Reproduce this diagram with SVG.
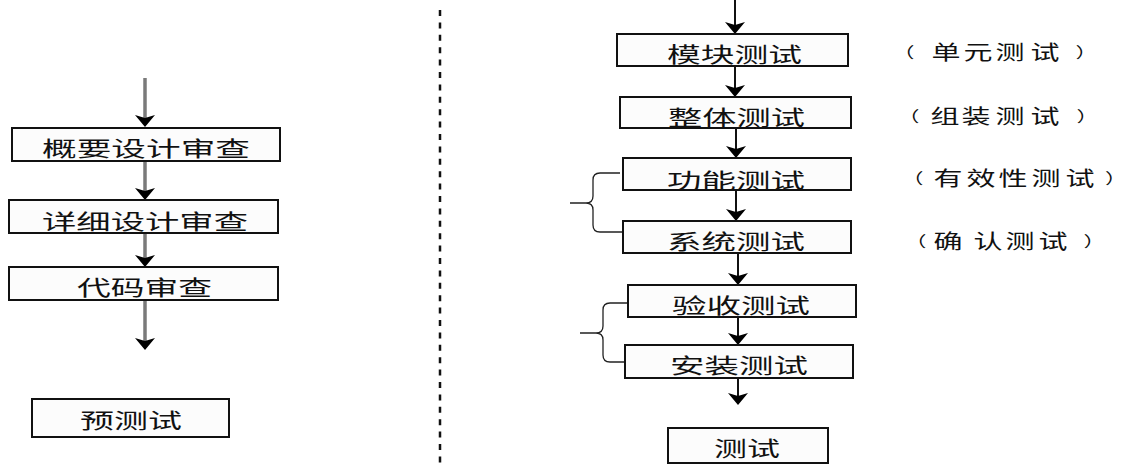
<svg xmlns="http://www.w3.org/2000/svg" width="1127" height="466" viewBox="0 0 1127 466">
<defs>
<style>
.box{fill:#fcfcfc;stroke:#111;stroke-width:2}
.t{font-family:"Noto Sans CJK SC","Noto Sans",sans-serif;font-size:21px;fill:#111;dominant-baseline:central}
.n{font-family:"Noto Sans CJK SC","Noto Sans",sans-serif;font-size:20px;fill:#111;dominant-baseline:central}
.p{font-size:15px}
.ga{stroke:#7a7a7a;stroke-width:3.5;fill:none;marker-end:url(#ah)}
.ba{stroke:#111;stroke-width:2;fill:none;marker-end:url(#ah)}
.br{stroke:#222;stroke-width:1.3;fill:none}
</style>
<marker id="ah" markerUnits="userSpaceOnUse" viewBox="0 0 12 20" refX="6" refY="10" markerWidth="12" markerHeight="20" orient="auto">
<path d="M0,0 L12,10 L0,20 L3,10 Z" fill="#000"/>
</marker>
</defs>
<rect width="1127" height="466" fill="#fff"/>
<line x1="440" y1="10" x2="440" y2="466" stroke="#111" stroke-width="2.5" stroke-dasharray="6,6.4"/>
<g id="connectors">
<line class="ga" x1="145" y1="78" x2="145" y2="121"/>
<line class="ga" x1="145" y1="161" x2="145" y2="194"/>
<line class="ga" x1="145" y1="233" x2="145" y2="261"/>
<line class="ga" x1="145" y1="300" x2="145" y2="344"/>
<line class="ba" x1="735" y1="0" x2="735" y2="28"/>
<line class="ba" x1="735" y1="66" x2="735" y2="91"/>
<line class="ba" x1="736" y1="128" x2="736" y2="152"/>
<line class="ba" x1="736" y1="190" x2="736" y2="215"/>
<line class="ba" x1="738" y1="253" x2="738" y2="279"/>
<line class="ba" x1="738" y1="317" x2="738" y2="339"/>
<line class="ba" x1="738" y1="378" x2="738" y2="399"/>
<path class="br" d="M620,173 L600,173 Q593,173 593,180 L593,196 Q593,203 586,203 L570,203 M586,203 Q593,203 593,210 L593,225 Q593,232 600,232 L623,232"/>
<path class="br" d="M628,303 L610,303 Q603,303 603,310 L603,326 Q603,333 596,333 L580,333 M596,333 Q603,333 603,340 L603,355 Q603,362 610,362 L626,362"/>
</g>
<g id="n1"><rect class="box" x="12" y="128" width="268" height="33"/><text class="t" x="42" y="147" textLength="208" lengthAdjust="spacingAndGlyphs">概要设计审查</text></g>
<g id="n2"><rect class="box" x="9" y="200" width="269" height="33"/><text class="t" x="42" y="220" textLength="206" lengthAdjust="spacingAndGlyphs">详细设计审查</text></g>
<g id="n3"><rect class="box" x="9" y="267" width="269" height="33"/><text class="t" x="77" y="286" textLength="135" lengthAdjust="spacingAndGlyphs">代码审查</text></g>
<g id="n4"><rect class="box" x="32" y="399" width="197" height="38"/><text class="t" x="80" y="419" textLength="102" lengthAdjust="spacingAndGlyphs">预测试</text></g>
<g id="r1"><rect class="box" x="617" y="34" width="231" height="32"/><text class="t" x="667" y="53" textLength="135" lengthAdjust="spacingAndGlyphs">模块测试</text></g>
<g id="r2"><rect class="box" x="620" y="97" width="231" height="31"/><text class="t" x="668" y="116" textLength="137" lengthAdjust="spacingAndGlyphs">整体测试</text></g>
<g id="r3"><rect class="box" x="623" y="158" width="228" height="32"/><text class="t" x="667" y="179" textLength="138" lengthAdjust="spacingAndGlyphs">功能测试</text></g>
<g id="r4"><rect class="box" x="623" y="221" width="228" height="32"/><text class="t" x="667" y="240" textLength="138" lengthAdjust="spacingAndGlyphs">系统测试</text></g>
<g id="r5"><rect class="box" x="628" y="285" width="228" height="32"/><text class="t" x="672" y="304" textLength="138" lengthAdjust="spacingAndGlyphs">验收测试</text></g>
<g id="r6"><rect class="box" x="625" y="345" width="228" height="33"/><text class="t" x="670" y="364" textLength="138" lengthAdjust="spacingAndGlyphs">安装测试</text></g>
<g id="r7"><rect class="box" x="668" y="428" width="160" height="35"/><text class="t" x="714" y="447" textLength="66" lengthAdjust="spacingAndGlyphs">测试</text></g>
<g id="l1"><text class="n" transform="scale(1.45,1)" y="51"><tspan class="p" x="615.7">（</tspan><tspan x="642.4 664.5 686.6 710.7">单元测试</tspan><tspan class="p" x="741.7">）</tspan></text></g>
<g id="l2"><text class="n" transform="scale(1.45,1)" y="115"><tspan class="p" x="619.2">（</tspan><tspan x="641.7 663.1 686.6 710.7">组装测试</tspan><tspan class="p" x="742.4">）</tspan></text></g>
<g id="l3"><text class="n" transform="scale(1.45,1)" y="177"><tspan class="p" x="621.9">（</tspan><tspan x="643.8 666.6 688.6 711.4 734.8">有效性测试</tspan><tspan class="p" x="762.1">）</tspan></text></g>
<g id="l4"><text class="n" transform="scale(1.45,1)" y="240"><tspan class="p" x="624.0">（</tspan><tspan x="643.8 671.4 693.4 716.2">确认测试</tspan><tspan class="p" x="747.2">）</tspan></text></g>
</svg>
